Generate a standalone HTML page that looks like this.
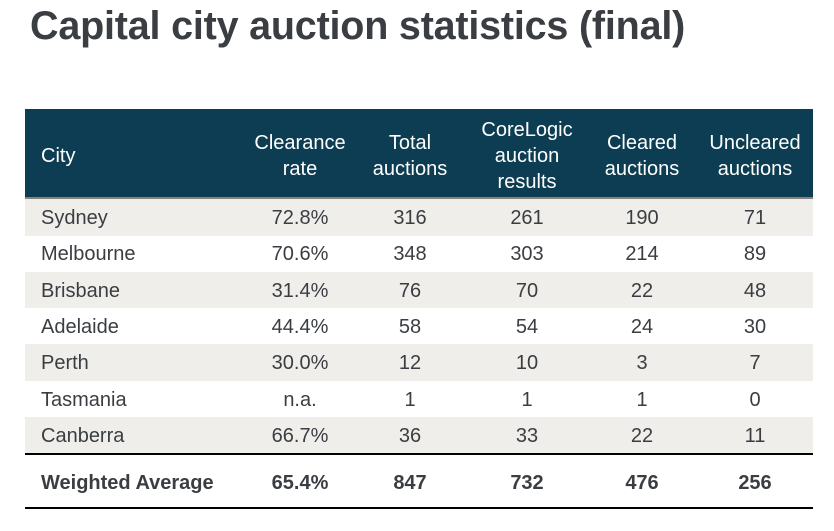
<!DOCTYPE html>
<html><head><meta charset="utf-8"><style>
body{margin:0;width:834px;height:531px;background:#fff;font-family:"Liberation Sans",Arial,sans-serif;color:#3a3d42;position:relative;overflow:hidden}
#title{position:absolute;left:30px;top:4px;font-size:39.5px;font-weight:bold;color:#3a3d42;letter-spacing:-0.2px}
.hdr{position:absolute;left:25px;top:109px;width:788px;height:89px;background:#0d3d52}
.hline{position:absolute;left:25px;top:197px;width:788px;height:2px;background:#8a8279}
.row{position:absolute;left:25px;width:788px;height:37px}
.c{position:absolute;font-size:20px;text-align:center;width:120px;margin-left:-60px;line-height:23px}
.rule{position:absolute;left:25px;width:788px;height:2px;background:#000}
</style></head><body>
<div id="title">Capital city auction statistics (final)</div>
<div class="hdr"></div>
<div class="hline"></div>
<div id="tbl"></div>
<div class="rule" style="top:453px"></div>
<div class="rule" style="top:507px"></div>
<script>
const cities=["Sydney","Melbourne","Brisbane","Adelaide","Perth","Tasmania","Canberra"];
const clearance=["72.8%","70.6%","31.4%","44.4%","30.0%","n.a.","66.7%"];
const total=[316,348,76,58,12,1,36];
const corelogic=[261,303,70,54,10,1,33];
const cleared=[190,214,22,24,3,1,22];
const uncleared=[71,89,48,30,7,0,11];
const avg=["Weighted Average","65.4%","847","732","476","256"];
const headers=[["City"],["Clearance","rate"],["Total","auctions"],["CoreLogic","auction","results"],["Cleared","auctions"],["Uncleared","auctions"]];
const colX=[41,300,410,527,642,755];
const tbl=document.getElementById('tbl');
function cell(txt,x,y,extra){
  const d=document.createElement('div');
  d.className='c';
  
  
  d.textContent=txt;
  d.style.top=y+'px';
  if(x===41){d.style.left='41px';d.style.marginLeft='0';d.style.textAlign='left';d.style.width='230px';}
  else d.style.left=x+'px';
  if(extra)Object.assign(d.style,extra);
  tbl.appendChild(d);return d;
}
headers.forEach((h,i)=>{
  const top=156-h.length*13;
  h.forEach((t,j)=>{const d=cell(t,colX[i],top+j*26,{color:'#fff',lineHeight:'26px'});});
});
cities.forEach((c,i)=>{
  const y=199+i*36.3;
  if(i%2===0){const r=document.createElement('div');r.className='row';
    
    
    r.style.top=y+'px';r.style.height='36.5px';r.style.background='#efeeea';tbl.insertBefore(r,tbl.firstChild);}
  const vals=[c,clearance[i],total[i],corelogic[i],cleared[i],uncleared[i]];
  vals.forEach((v,k)=>cell(String(v),colX[k],y+8));
});
avg.forEach((v,k)=>cell(v,colX[k],472,{fontWeight:'bold'}));
</script>
</body></html>
